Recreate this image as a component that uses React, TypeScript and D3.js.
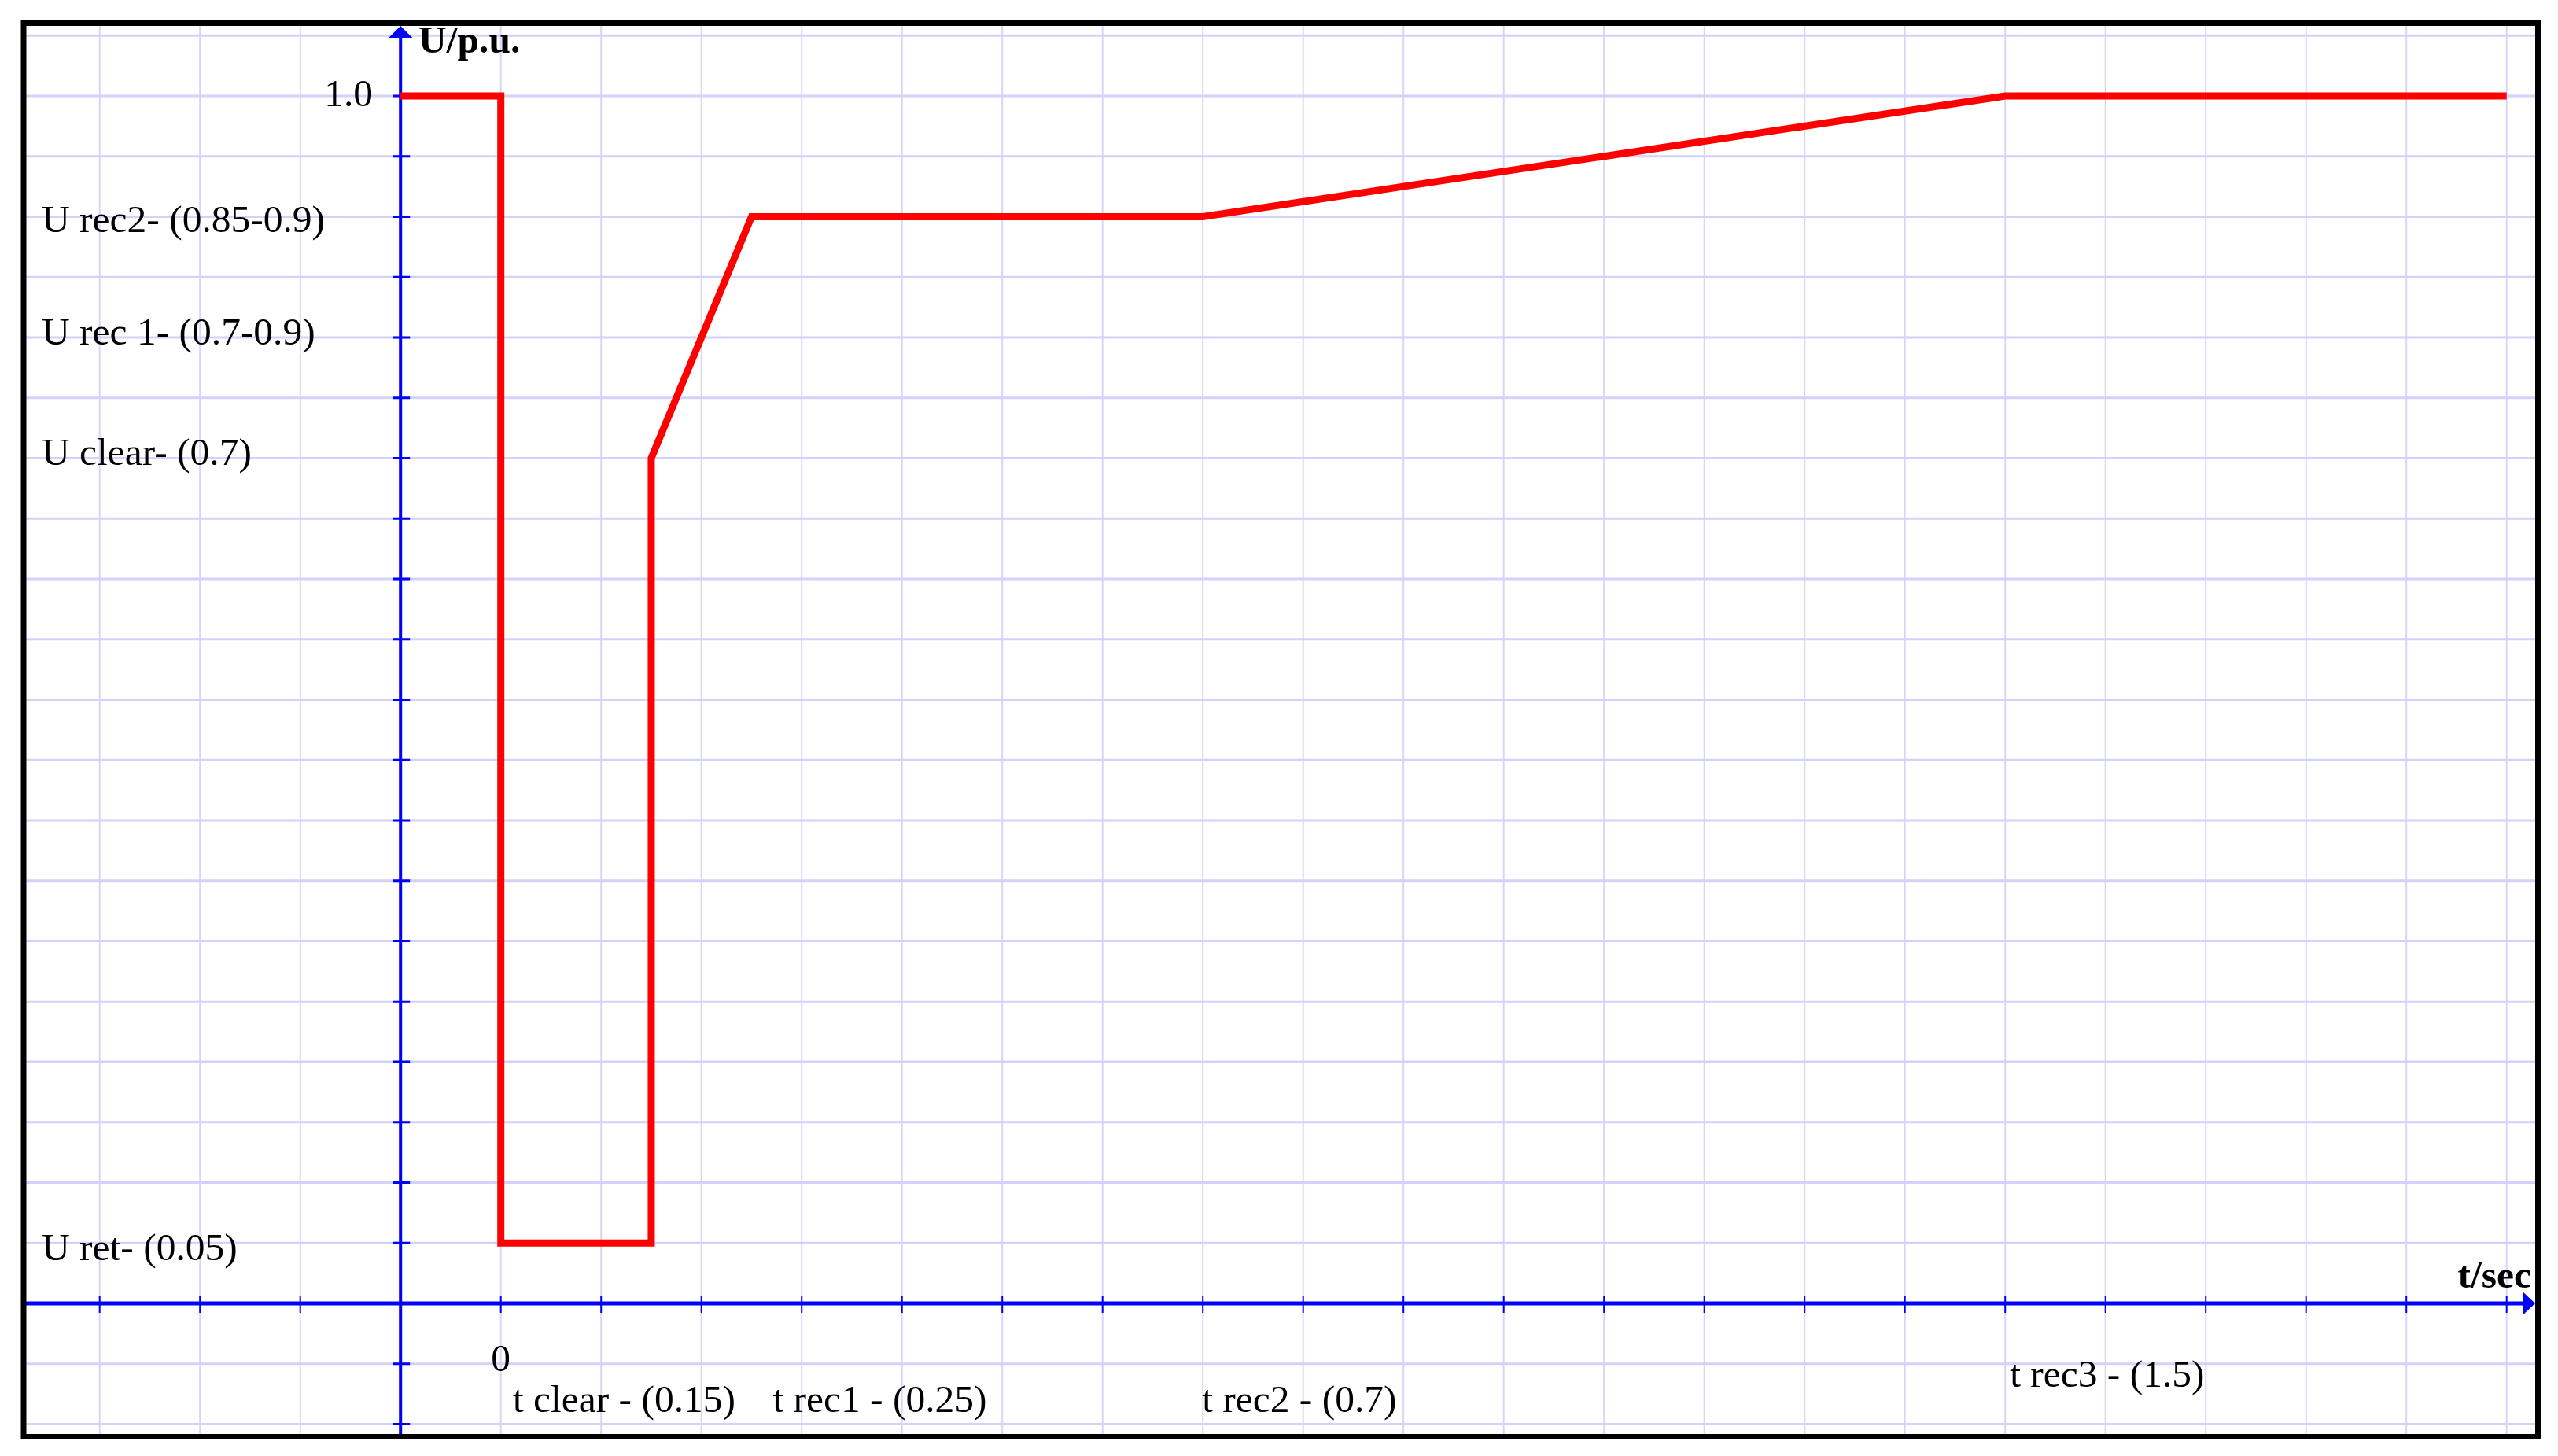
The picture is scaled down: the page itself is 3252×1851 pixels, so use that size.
import React from "react";
import * as d3 from "d3";

// ---- data ----
const times = [-0.1, 0, 0, 0.15, 0.15, 0.25, 0.7, 1.5, 2.0];
const voltages = [1.0, 1.0, 0.05, 0.05, 0.7, 0.9, 0.9, 1.0, 1.0];

const yLabelTexts = ["1.0", "U rec2- (0.85-0.9)", "U rec 1- (0.7-0.9)", "U clear- (0.7)", "U ret- (0.05)"];
const yLabelValues = [1.0, 0.9, 0.8, 0.7, 0.05];

const xLabelTexts = ["0", "t clear - (0.15)", "t rec1 - (0.25)", "t rec2 - (0.7)", "t rec3 - (1.5)"];
const xLabelValues = [0, 0.15, 0.25, 0.7, 1.5];

const xGridValues = d3.range(-4, 21).map((k) => k / 10);
const yGridValues = d3.range(-2, 22).map((k) => k * 0.05);

// ---- layout (styles/positions) ----
const W = 3252;
const H = 1851;
const yLabelDy = [13, 19, 9, 8, 22];
const xLabelDx = [0, -176, 27, -1, 6];
const xLabelBaseline = [1743, 1795, 1795, 1795, 1763];

export default function App() {
  const x = d3.scaleLinear().domain([0, 2]).range([636.7, 3186.7]);
  const y = d3.scaleLinear().domain([0, 1]).range([1657, 122]);

  const x0 = x(-0.1); // y axis position
  const y0 = y(0); // x axis position

  const border = { left: 30, top: 29.5, right: 3226.5, bottom: 1826.5 };

  const line = d3
    .line<number>()
    .x((_, i) => x(times[i]))
    .y((d) => y(d))
    .curve(d3.curveLinear);

  const font = "'Liberation Serif', 'Times New Roman', serif";

  return (
    <svg
      width={W}
      height={H}
      style={{ position: "absolute", left: 0, top: 0, display: "block", background: "#fff" }}
    >
      <rect x={0} y={0} width={W} height={H} fill="#fff" />
      {/* grid */}
      <g>
        {xGridValues.map((t) => (
          <line
            key={"gx" + t}
            x1={x(t)}
            x2={x(t)}
            y1={border.top}
            y2={border.bottom}
            stroke="#d6d6fb"
            strokeWidth={2}
          />
        ))}
        {yGridValues.map((v) => (
          <line
            key={"gy" + v}
            x1={border.left}
            x2={border.right}
            y1={y(v)}
            y2={y(v)}
            stroke="#d2d2fa"
            strokeWidth={3}
          />
        ))}
      </g>

      {/* axes */}
      <g>
        <line x1={x0} x2={x0} y1={45} y2={border.bottom} stroke="#0000ff" strokeWidth={4} />
        <polygon points={`${x0},33 ${x0 - 15},48 ${x0 + 15},48`} fill="#0000ff" />
        <line x1={border.left} x2={3208} y1={y0} y2={y0} stroke="#0000ff" strokeWidth={5} />
        <polygon points={`3223,${y0} 3207,${y0 - 15} 3207,${y0 + 15}`} fill="#0000ff" />
        {yGridValues
          .filter((v) => Math.abs(v) > 1e-9 && v < 1.02)
          .map((v) => (
            <line
              key={"ty" + v}
              x1={x0 - 10}
              x2={x0 + 12}
              y1={y(v)}
              y2={y(v)}
              stroke="#0000ff"
              strokeWidth={3}
            />
          ))}
        {xGridValues
          .filter((t) => Math.abs(t + 0.1) > 1e-9)
          .map((t) => (
            <line
              key={"tx" + t}
              x1={x(t)}
              x2={x(t)}
              y1={y0 - 10}
              y2={y0 + 12}
              stroke="#0000ff"
              strokeWidth={2}
            />
          ))}
      </g>

      {/* series */}
      <path
        d={line(voltages) || ""}
        fill="none"
        stroke="#ff0000"
        strokeWidth={9}
        strokeLinejoin="miter"
        strokeLinecap="butt"
      />

      {/* labels */}
      <g fontFamily={font} fontSize={49.5} fill="#000">
        {yLabelTexts.map((txt, i) => (
          <text
            key={"yl" + i}
            x={i === 0 ? 474 : 53}
            y={y(yLabelValues[i]) + yLabelDy[i]}
            textAnchor={i === 0 ? "end" : "start"}
          >
            {txt}
          </text>
        ))}
        {xLabelTexts.map((txt, i) => (
          <text
            key={"xl" + i}
            x={x(xLabelValues[i]) + xLabelDx[i]}
            y={xLabelBaseline[i]}
            textAnchor={i === 0 ? "middle" : "start"}
          >
            {txt}
          </text>
        ))}
        <text x={532} y={67} fontWeight="bold">
          U/p.u.
        </text>
        <text x={3218} y={1637} fontWeight="bold" textAnchor="end">
          t/sec
        </text>
      </g>

      {/* border */}
      <rect
        x={border.left}
        y={border.top}
        width={border.right - border.left}
        height={border.bottom - border.top}
        fill="none"
        stroke="#000"
        strokeWidth={7}
      />
    </svg>
  );
}
